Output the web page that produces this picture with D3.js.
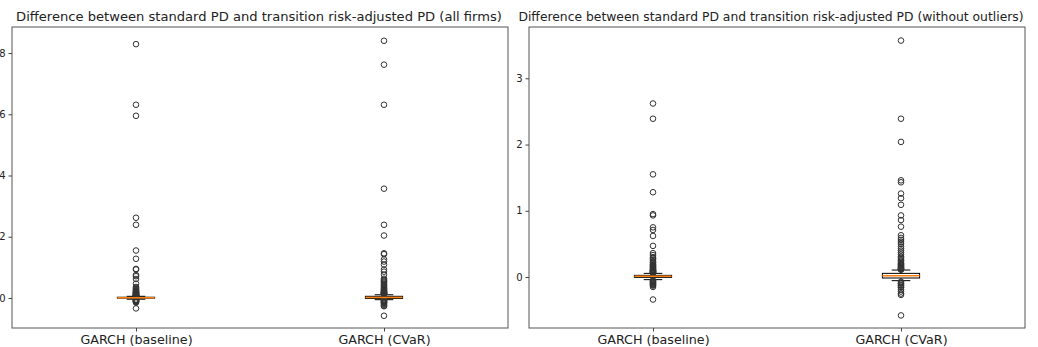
<!DOCTYPE html>
<html><head><meta charset="utf-8">
<script src="https://cdn.jsdelivr.net/npm/d3@7"></script>
<style>body{margin:0;background:#fff}svg{display:block}text{font-family:"DejaVu Sans",sans-serif;fill:#222}</style>
</head><body>
<svg id="c" width="1038" height="347"></svg>
<script>
const categories = ["GARCH (baseline)", "GARCH (CVaR)"];
const panelTitles = [
  "Difference between standard PD and transition risk-adjusted PD (all firms)",
  "Difference between standard PD and transition risk-adjusted PD (without outliers)"
];
// box statistics: [lower whisker, Q1, median, Q3, upper whisker]
const baselineStats = [-0.04, -0.005, 0.01, 0.025, 0.055];
const cvarStats = [-0.055, -0.015, 0.02, 0.055, 0.105];
// outliers shown in both panels
const baselineFliers = [2.62, 2.39, 1.55, 1.28, 0.95, 0.93, 0.75, 0.71, 0.62, 0.47,
  0.36, 0.33, 0.30, 0.28, 0.26, 0.24, 0.22, 0.21, 0.19, 0.18, 0.17, 0.16, 0.15, 0.14,
  0.13, 0.12, 0.11, 0.105, 0.10, 0.095, 0.09, 0.085, 0.08, 0.075, 0.07, 0.065, 0.06,
  -0.05, -0.06, -0.07, -0.08, -0.09, -0.10, -0.11, -0.12, -0.13, -0.15, -0.34];
const cvarFliers = [3.57, 2.39, 2.04, 1.46, 1.43, 1.26, 1.19, 1.09, 0.93, 0.86, 0.76,
  0.63, 0.59, 0.56, 0.53, 0.50, 0.46, 0.43, 0.40, 0.37, 0.34, 0.31, 0.29, 0.27, 0.25,
  0.23, 0.21, 0.20, 0.19, 0.18, 0.17, 0.16, 0.15, 0.14, 0.13, 0.125, 0.12, 0.115, 0.11,
  -0.07, -0.09, -0.10, -0.12, -0.13, -0.15, -0.16, -0.19, -0.22, -0.25, -0.27, -0.58];
// extreme outliers only in the "all firms" panel
const baselineExtreme = [8.29, 6.31, 5.95];
const cvarExtreme = [8.40, 7.62, 6.31];
const leftTicks = [0, 2, 4, 6, 8];
const rightTicks = [0, 1, 2, 3];
const leftDomain = [-0.98, 8.85];
const rightDomain = [-0.77, 3.775];

const svg = d3.select("#c");
const panels = [
  {x0: 12, x1: 508, domain: leftDomain, ticks: leftTicks, title: panelTitles[0], titleX: 259, titleSize: 13.1,
   series: [{stats: baselineStats, fl: baselineFliers.concat(baselineExtreme)},
            {stats: cvarStats, fl: cvarFliers.concat(cvarExtreme)}]},
  {x0: 529, x1: 1025, domain: rightDomain, ticks: rightTicks, title: panelTitles[1], titleX: 771, titleSize: 12.35,
   series: [{stats: baselineStats, fl: baselineFliers},
            {stats: cvarStats, fl: cvarFliers}]}
];
const plotTop = 27, plotBottom = 328;

panels.forEach(p => {
  const g = svg.append("g");
  const x = d3.scalePoint().domain(categories).range([p.x0, p.x1]).padding(0.5);
  const xl = d3.scaleLinear().domain([0.5, 2.5]).range([p.x0, p.x1]);
  const y = d3.scaleLinear().domain(p.domain).range([plotBottom, plotTop]);
  const bw = xl(1.15) - xl(1);

  g.append("rect").attr("x", p.x0).attr("y", plotTop).attr("width", p.x1 - p.x0).attr("height", plotBottom - plotTop)
    .attr("fill", "none").attr("stroke", "#555").attr("stroke-width", 1);

  const ya = g.append("g").attr("transform", `translate(${p.x0},0)`)
    .call(d3.axisLeft(y).tickValues(p.ticks).tickFormat(d3.format("d")).tickSize(3.5).tickPadding(3));
  ya.select(".domain").remove();
  ya.selectAll("line").attr("stroke", "#444");
  ya.selectAll("text").attr("font-size", 10).attr("fill", "#222").style("font-family", "DejaVu Sans");

  const xa = g.append("g").attr("transform", `translate(0,${plotBottom})`)
    .call(d3.axisBottom(x).tickSize(3.5).tickPadding(5));
  xa.select(".domain").remove();
  xa.selectAll("line").attr("stroke", "#444");
  xa.selectAll("text").attr("font-size", 12.7).attr("fill", "#222").attr("dy", null).attr("y", 16)
    .style("font-family", "DejaVu Sans");

  g.append("text").attr("x", p.titleX).attr("y", 21).attr("text-anchor", "middle")
    .attr("font-size", p.titleSize).text(p.title);

  p.series.forEach((s, i) => {
    const cx = x(categories[i]);
    const [wl, q1, med, q3, wh] = s.stats;
    const sg = g.append("g");
    sg.append("line").attr("x1", cx).attr("x2", cx).attr("y1", y(q3)).attr("y2", y(wh)).attr("stroke", "#000");
    sg.append("line").attr("x1", cx).attr("x2", cx).attr("y1", y(q1)).attr("y2", y(wl)).attr("stroke", "#000");
    [wl, wh].forEach(v => sg.append("line").attr("x1", cx - bw / 4).attr("x2", cx + bw / 4)
      .attr("y1", y(v)).attr("y2", y(v)).attr("stroke", "#000"));
    sg.append("rect").attr("x", cx - bw / 2).attr("width", bw).attr("y", y(q3))
      .attr("height", Math.max(0.5, y(q1) - y(q3))).attr("fill", "none").attr("stroke", "#000");
    sg.selectAll("circle").data(s.fl).join("circle")
      .attr("cx", cx).attr("cy", d => y(d)).attr("r", 2.8)
      .attr("fill", "none").attr("stroke", "#333").attr("stroke-width", 1);
    sg.append("line").attr("x1", cx - bw / 2).attr("x2", cx + bw / 2).attr("y1", y(med)).attr("y2", y(med))
      .attr("stroke", "#ff7f0e").attr("stroke-width", 1.5);
  });
});
</script>
</body></html>
